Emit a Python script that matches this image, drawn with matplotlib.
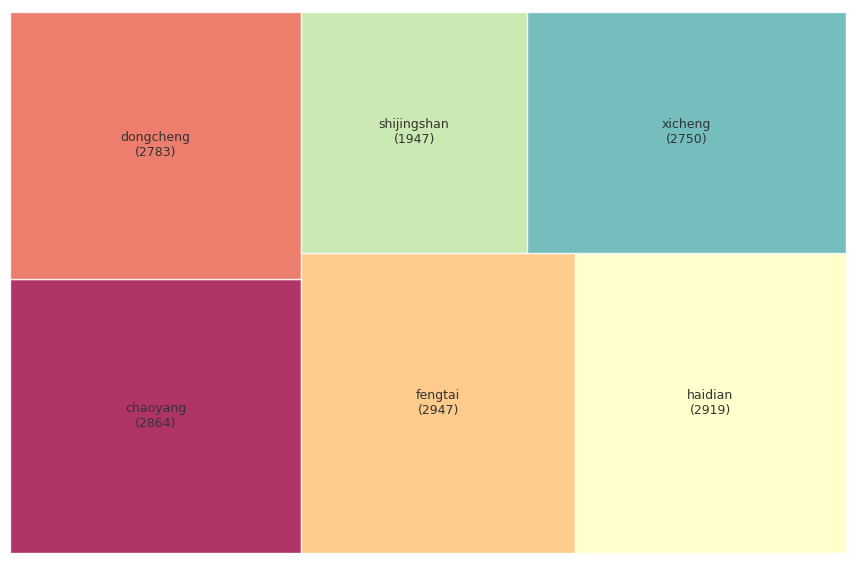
import matplotlib
matplotlib.use("Agg")
import matplotlib.pyplot as plt

districts = ["chaoyang", "dongcheng", "fengtai", "haidian", "shijingshan", "xicheng"]
counts = [2864, 2783, 2947, 2919, 1947, 2750]


# small squarify implementation (same algorithm as the squarify package)
def normalize_sizes(sizes, dx, dy):
    total = sum(sizes)
    return [s * dx * dy / total for s in sizes]


def layoutrow(sizes, x, y, dx, dy):
    width = sum(sizes) / dy
    rects = []
    for s in sizes:
        rects.append((x, y, width, s / width))
        y += s / width
    return rects


def layoutcol(sizes, x, y, dx, dy):
    height = sum(sizes) / dx
    rects = []
    for s in sizes:
        rects.append((x, y, s / height, height))
        x += s / height
    return rects


def layout(sizes, x, y, dx, dy):
    return layoutrow(sizes, x, y, dx, dy) if dx >= dy else layoutcol(sizes, x, y, dx, dy)


def leftover(sizes, x, y, dx, dy):
    covered = sum(sizes)
    if dx >= dy:
        width = covered / dy
        return x + width, y, dx - width, dy
    height = covered / dx
    return x, y + height, dx, dy - height


def worst_ratio(sizes, x, y, dx, dy):
    return max(max(r[2] / r[3], r[3] / r[2]) for r in layout(sizes, x, y, dx, dy))


def squarify(sizes, x, y, dx, dy):
    if len(sizes) == 0:
        return []
    if len(sizes) == 1:
        return layout(sizes, x, y, dx, dy)
    i = 1
    while i < len(sizes) and worst_ratio(sizes[:i], x, y, dx, dy) >= worst_ratio(sizes[:i + 1], x, y, dx, dy):
        i += 1
    current = sizes[:i]
    remaining = sizes[i:]
    lx, ly, ldx, ldy = leftover(current, x, y, dx, dy)
    return layout(current, x, y, dx, dy) + squarify(remaining, lx, ly, ldx, ldy)


colors = [plt.cm.Spectral(i / 6) for i in range(6)]
labels = [f"{d}\n({c})" for d, c in zip(districts, counts)]

rects = squarify(normalize_sizes(counts, 100, 100), 0, 0, 100, 100)

fig = plt.figure(figsize=(8.56, 5.62), dpi=100)
ax = fig.add_axes([10 / 856, 9 / 562, 836 / 856, 541 / 562])
ax.bar([r[0] for r in rects], [r[3] for r in rects], width=[r[2] for r in rects],
       bottom=[r[1] for r in rects], color=colors, alpha=0.8, align="edge",
       edgecolor="white", linewidth=1)
for r, lab in zip(rects, labels):
    ax.text(r[0] + r[2] / 2, r[1] + r[3] / 2, lab, ha="center", va="center",
            fontsize=9, color="#333333")
ax.set_xlim(0, 100)
ax.set_ylim(0, 100)
ax.axis("off")
plt.savefig("out.png")
